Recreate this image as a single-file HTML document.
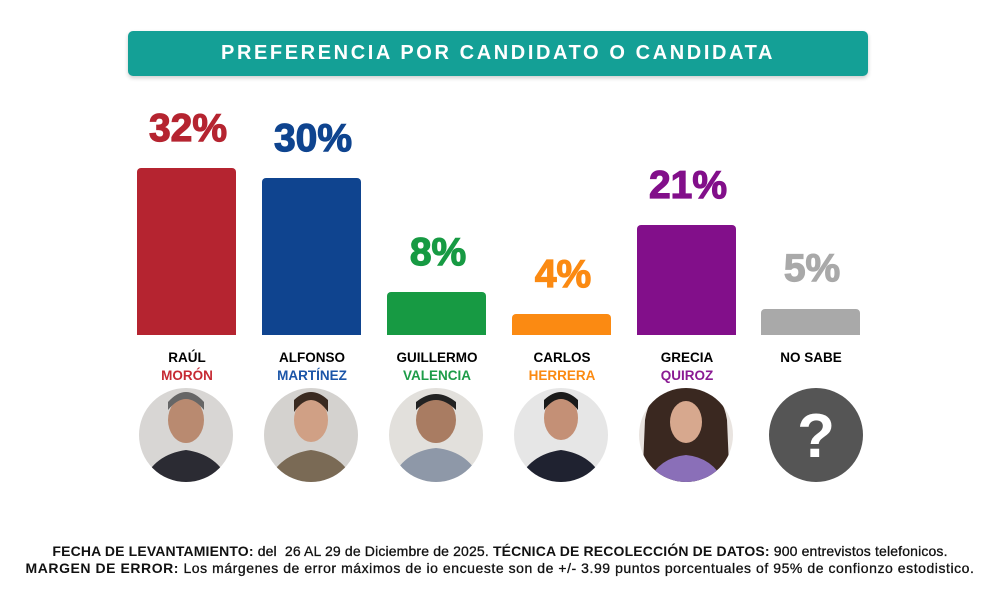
<!DOCTYPE html>
<html><head><meta charset="utf-8"><style>
body{margin:0;width:1000px;height:600px;background:#fff;position:relative;overflow:hidden;font-family:"Liberation Sans",sans-serif}
.a{position:absolute}
.hdr{left:128px;top:31px;width:740px;height:45px;background:#14a096;border-radius:5px;box-shadow:0 2px 4px rgba(0,0,0,.2);color:#fff;font-weight:bold;font-size:20px;letter-spacing:2.6px;text-align:center;line-height:45px}
.bar{border-radius:4px 4px 0 0;width:99px;bottom:265px}
.pct{width:160px;text-align:center;font-weight:900;font-size:39px;letter-spacing:0px;-webkit-text-stroke:1.2px currentColor}
.nm{width:140px;text-align:center;font-weight:bold;font-size:13.5px;line-height:18px}
.ft{left:0;width:1000px;text-align:center;font-weight:bold;font-size:14px;color:#111;white-space:nowrap}
.ft span{font-weight:normal;-webkit-text-stroke:0.3px #111}
</style></head><body>
<div class="a hdr">PREFERENCIA POR CANDIDATO O CANDIDATA</div>

<div class="a bar" style="left:137px;top:168px;background:#b52430"></div>
<div class="a bar" style="left:262px;top:178px;background:#0f448f"></div>
<div class="a bar" style="left:387px;top:292px;background:#179a43"></div>
<div class="a bar" style="left:512px;top:314px;background:#fb8a12"></div>
<div class="a bar" style="left:637px;top:225px;background:#820f8a"></div>
<div class="a bar" style="left:761px;top:309px;background:#a9a9a9"></div>

<div class="a pct" style="left:108px;top:107px;color:#b52430">32%</div>
<div class="a pct" style="left:233px;top:117px;color:#0f448f">30%</div>
<div class="a pct" style="left:358px;top:231px;color:#179a43">8%</div>
<div class="a pct" style="left:483px;top:253px;color:#fb8a12">4%</div>
<div class="a pct" style="left:608px;top:164px;color:#820f8a">21%</div>
<div class="a pct" style="left:732px;top:247px;color:#a9a9a9">5%</div>

<div class="a nm" style="left:117px;top:349px">RAÚL<br><span style="color:#c62a33">MORÓN</span></div>
<div class="a nm" style="left:242px;top:349px">ALFONSO<br><span style="color:#1b55a8">MARTÍNEZ</span></div>
<div class="a nm" style="left:367px;top:349px">GUILLERMO<br><span style="color:#1d9c48">VALENCIA</span></div>
<div class="a nm" style="left:492px;top:349px">CARLOS<br><span style="color:#fb8a12">HERRERA</span></div>
<div class="a nm" style="left:617px;top:349px">GRECIA<br><span style="color:#8a1a93">QUIROZ</span></div>
<div class="a nm" style="left:741px;top:349px">NO SABE</div>

<svg class="a" style="left:0;top:0" width="1000" height="600">
<defs><clipPath id="c1"><circle cx="186" cy="435" r="47"/></clipPath>
<clipPath id="c2"><circle cx="311" cy="435" r="47"/></clipPath>
<clipPath id="c3"><circle cx="436" cy="435" r="47"/></clipPath>
<clipPath id="c4"><circle cx="561" cy="435" r="47"/></clipPath>
<clipPath id="c5"><circle cx="686" cy="435" r="47"/></clipPath></defs>
<g clip-path="url(#c1)"><rect x="130" y="380" width="120" height="110" fill="#d8d6d4"/><path d="M140 490 Q150 455 186 450 Q222 455 232 490Z" fill="#2b2b33"/><ellipse cx="186" cy="420" rx="18" ry="23" fill="#b98a70"/><path d="M168 410 Q186 388 204 410 L204 402 Q186 382 168 402Z" fill="#666"/></g>
<g clip-path="url(#c2)"><rect x="255" y="380" width="120" height="110" fill="#d4d2cf"/><path d="M265 490 Q275 455 311 450 Q347 455 357 490Z" fill="#7a6a55"/><ellipse cx="311" cy="420" rx="17" ry="22" fill="#d0a085"/><path d="M294 412 Q311 388 328 412 L328 400 Q311 384 294 400Z" fill="#3a2a20"/></g>
<g clip-path="url(#c3)"><rect x="380" y="380" width="120" height="110" fill="#e2e0dc"/><path d="M388 490 Q398 452 436 448 Q474 452 484 490Z" fill="#8e98a8"/><ellipse cx="436" cy="420" rx="20" ry="23" fill="#a97c62"/><path d="M416 410 Q436 390 456 410 L456 402 Q436 386 416 402Z" fill="#222"/></g>
<g clip-path="url(#c4)"><rect x="505" y="380" width="120" height="110" fill="#e6e6e6"/><path d="M515 490 Q525 455 561 450 Q597 455 607 490Z" fill="#1f2230"/><ellipse cx="561" cy="418" rx="17" ry="22" fill="#c49076"/><path d="M544 410 Q561 388 578 410 L578 400 Q561 384 544 400Z" fill="#1a1a1a"/></g>
<g clip-path="url(#c5)"><rect x="630" y="380" width="120" height="110" fill="#e9e4e0"/><path d="M645 420 Q650 385 686 385 Q722 385 727 420 L730 490 L642 490Z" fill="#3a2820"/><path d="M645 490 Q655 458 686 455 Q717 458 727 490Z" fill="#8a6fb8"/><ellipse cx="686" cy="422" rx="16" ry="21" fill="#d7a88e"/></g>
<circle cx="816" cy="435" r="47" fill="#555"/>
<text x="816" y="457" text-anchor="middle" font-family="Liberation Sans" font-weight="bold" font-size="62" fill="#fff">?</text>
</svg>

<div class="a ft" style="top:543px;letter-spacing:0.15px">FECHA DE LEVANTAMIENTO: <span>del&nbsp; 26 AL 29 de Diciembre de 2025.</span> TÉCNICA DE RECOLECCIÓN DE DATOS: <span>900 entrevistos telefonicos.</span></div>
<div class="a ft" style="top:560px;letter-spacing:0.55px">MARGEN DE ERROR: <span>Los márgenes de error máximos de io encueste son de +/- 3.99 puntos porcentuales of 95% de confionzo estodistico.</span></div>
</body></html>
